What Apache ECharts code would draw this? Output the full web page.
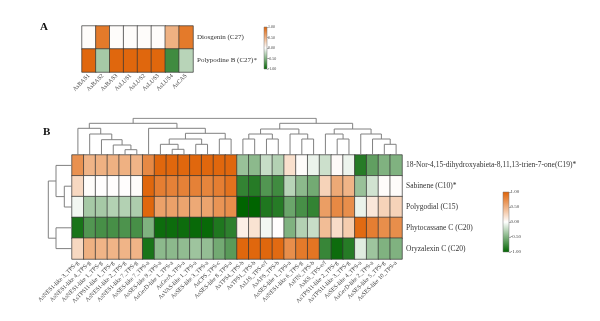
<!DOCTYPE html>
<html><head><meta charset="utf-8">
<script src="https://cdn.jsdelivr.net/npm/echarts@6/dist/echarts.min.js"></script>
<style>html,body{margin:0;padding:0;background:#fff}#c{width:600px;height:321px}</style>
</head><body><div id="c"></div>
<script>
// ---------- Panel A data ----------
const aCols = ['AsBAS1','AsBAS2','AsBAS3','AsLUS1','AsLUS2','AsLUS3','AsLUS4','AsCAS'];
const aRows = ['Diosgenin (C27)','Polypodine B (C27)*'];
const aDiosgenin  = [0.02, 0.85, 0.02, 0.02, 0.02, 0.02, 0.50, 0.85];
const aPolypodine = [0.97, -0.35, 0.97, 0.97, 0.97, 0.97, -0.75, -0.28];

// ---------- Panel B data ----------
const bCols = ['AsNES1-like 3_TPS-g','AsNES1-like 4_TPS-g','AsNES1-like 1_TPS-g','AsTPS11-like 1_TPS-g',
  'AsNES1-like 2_TPS-g','AsNES1-like 7_TPS-g','AsSES-like 7_TPS-a','AsSES-like 9_TPS-a','AsGerD-like 1_TPS-a',
  'AsGerA_TPS-a','AsVAS-like 1_TPS-a','AsSES-like 3_TPS-a','AsCPS_TPS-c','AsSES-like 8_TPS-a','AsTPS4_TPS-b',
  'AsTPS1_TPS-b','AsLIS_TPS-e/f','AsAFS_TPS-b','AsSES-like 1_TPS-a','AsNES1-like 6_TPS-g','AsFIN_TPS-b',
  'AsKS_TPS-e/f','AsTPS11-like 2_TPS-g','AsTPS11-like 3_TPS-g','AsSES-like 4_TPS-a','AsGerD-like 2_TPS-a',
  'AsSES-like 5_TPS-g','AsSES-like 10_TPS-a'];
const bRows = ['18-Nor-4,15-dihydroxyabieta-8,11,13-trien-7-one(C19)*','Sabinene (C10)*','Polygodial (C15)',
  'Phytocassane C (C20)','Oryzalexin C (C20)'];
const bNor = [0.70, 0.48,0.50,0.50,0.50,0.48, 0.75, 0.97,0.97,0.97,0.97,0.97,0.97,0.97,
  -0.40,-0.45,-0.22,-0.30, 0.20,0.02,-0.08, -0.20,0.03,-0.07, -0.85,-0.62,-0.50,-0.50];
const bSabinene = [0.25, 0.02,0.01,0.01,0.01,0.02, 0.97, 0.82,0.80,0.80,0.80,0.78,0.82,0.90,
  -0.80,-0.85,-0.68,-0.75, -0.28,-0.45,-0.55, 0.28,0.55,0.48, -0.40,-0.18,0.02,0.02];
const bPolygodial = [-0.05, -0.35,-0.35,-0.30,-0.30,-0.32, 0.97, 0.60,0.60,0.58,0.55,0.58,0.68,0.72,
  -1.00,-1.00,-0.88,-0.85, -0.58,-0.72,-0.80, 0.62,0.75,0.72, -0.08,0.15,0.28,0.28];
const bPhytocassane = [-0.90, -0.68,-0.72,-0.72,-0.70,-0.72, -0.50, -0.95,-0.95,-0.95,-0.97,-0.97,-0.88,-0.82,
  0.10,0.18,-0.05,0.01, -0.50,-0.30,-0.22, 0.42,0.22,0.32, 0.95,0.82,0.72,0.72];
const bOryzalexin = [0.25, 0.50,0.48,0.48,0.48,0.48, -0.90, -0.45,-0.45,-0.43,-0.38,-0.42,-0.55,-0.65,
  0.97,0.97,0.97,0.95, 0.72,0.85,0.88, -0.78,-0.95,-0.85, -0.12,-0.38,-0.50,-0.50];

// dendrograms: [left, right, mergeHeight]; numbers are leaf indices
const colTree = [
  [[0,[1,[2,[3,[4,5,5.3],10],15.3],21],26.7],
   [6,[[[7,[8,9,5.7],10.7],[10,11,10.7],16],[12,13,16],21.7],26.7],31.7],
  [[[[14,15,16],[16,17,16],21],[18,[19,20,16],21],26],
   [[21,[22,23,16],21],[24,[25,[26,27,10.7],16],21],26],31.7],
  36.7];
const rowTree = [[0,[1,2,7.7],16],[3,4,16],23.7];

const colorTicks = [-1, -0.5, 0, 0.5, 1];

// ---------- build ----------
function dendro(tree, segs){
  if (typeof tree === 'number') return {p: tree + 0.5, h: 0};
  const l = dendro(tree[0], segs), r = dendro(tree[1], segs), h = tree[2];
  segs.push([[l.p,l.h],[l.p,h],[r.p,h],[r.p,r.h]]);
  return {p:(l.p+r.p)/2, h:h};
}
const colSegs=[]; dendro(colTree, colSegs);
const rowSegsRaw=[]; dendro(rowTree, rowSegsRaw);
const rowSegs = rowSegsRaw.map(s => s.map(([p,h]) => [h,p]));

const aData=[]; [aDiosgenin,aPolypodine].forEach((row,r)=>row.forEach((v,c)=>aData.push([c,r,v])));
const bData=[]; [bNor,bSabinene,bPolygodial,bPhytocassane,bOryzalexin].forEach((row,r)=>row.forEach((v,c)=>bData.push([c,r,v])));

const FONT = 'Liberation Serif';
const GREEN='#006400', ORANGE='#df6205';
const colors=[GREEN,'#ffffff',ORANGE];

function colorbar(api){
  const top = api.coord([0, 1]), bot = api.coord([0, -1]);
  const w = api.size([1,0])[0];
  return {type:'rect', shape:{x:top[0]-w/2, y:top[1], width:w, height:bot[1]-top[1]},
    style:{fill:new echarts.graphic.LinearGradient(0,0,0,1,[
      {offset:0,color:ORANGE},{offset:0.5,color:'#ffffff'},{offset:1,color:GREEN}]),
      stroke:'#777', lineWidth:0.5}};
}

const hidden = {axisLine:{show:false},axisTick:{show:false},splitLine:{show:false},axisLabel:{show:false}};

const chart = echarts.init(document.getElementById('c'), null, {renderer:'canvas'});
chart.setOption({
  animation:false,
  textStyle:{fontFamily:FONT},
  graphic:[
    {type:'text', left:40, top:22, style:{text:'A', font:'bold 11px "Liberation Serif"', fill:'#111'}},
    {type:'text', left:43, top:127, style:{text:'B', font:'bold 11px "Liberation Serif"', fill:'#111'}}
  ],
  grid:[
    {left:82, top:26, width:111, height:46},    // 0 heatmap A
    {left:72, top:155, width:330, height:104},  // 1 heatmap B
    {left:72, top:118, width:330, height:37},   // 2 col dendro
    {left:44, top:155, width:28, height:104},   // 3 row dendro
    {left:264, top:27, width:3, height:42},     // 4 colorbar A
    {left:503, top:192, width:6, height:60}     // 5 colorbar B
  ],
  xAxis:[
    {type:'category', gridIndex:0, data:aCols, axisLine:{show:false}, axisTick:{show:false},
      axisLabel:{rotate:45, fontSize:6, color:'#444', margin:3, interval:0, fontFamily:FONT}},
    {type:'category', gridIndex:1, data:bCols, axisLine:{show:false}, axisTick:{show:false},
      axisLabel:{rotate:45, fontSize:6, color:'#444', margin:3, interval:0, fontFamily:FONT}},
    Object.assign({type:'value', gridIndex:2, min:0, max:bCols.length}, hidden),
    Object.assign({type:'value', gridIndex:3, min:0, max:28, inverse:true}, hidden),
    Object.assign({type:'category', gridIndex:4, data:['c']}, hidden),
    Object.assign({type:'category', gridIndex:5, data:['c']}, hidden)
  ],
  yAxis:[
    {type:'category', gridIndex:0, data:aRows, inverse:true, position:'right', axisLine:{show:false}, axisTick:{show:false},
      axisLabel:{fontSize:7, color:'#333', margin:4, fontFamily:FONT}},
    {type:'category', gridIndex:1, data:bRows, inverse:true, position:'right', axisLine:{show:false}, axisTick:{show:false},
      axisLabel:{fontSize:7.5, color:'#333', margin:4, fontFamily:FONT}},
    Object.assign({type:'value', gridIndex:2, min:0, max:37}, hidden),
    Object.assign({type:'value', gridIndex:3, min:0, max:bRows.length, inverse:true}, hidden),
    {type:'value', gridIndex:4, min:-1, max:1, interval:0.5, position:'right', splitLine:{show:false},
      axisLine:{show:false}, axisTick:{show:true, length:1.5, lineStyle:{color:'#666', width:0.5}},
      axisLabel:{fontSize:4, color:'#444', margin:1, formatter:v=>v.toFixed(2), fontFamily:FONT}},
    {type:'value', gridIndex:5, min:-1, max:1, interval:0.5, position:'right', splitLine:{show:false},
      axisLine:{show:false}, axisTick:{show:true, length:2, lineStyle:{color:'#666', width:0.5}},
      axisLabel:{fontSize:5, color:'#444', margin:1.5, formatter:v=>v.toFixed(2), fontFamily:FONT}}
  ],
  visualMap:[
    {show:false, seriesIndex:0, min:-1, max:1, inRange:{color:colors}},
    {show:false, seriesIndex:1, min:-1, max:1, inRange:{color:colors}}
  ],
  series:[
    {type:'heatmap', xAxisIndex:0, yAxisIndex:0, data:aData, itemStyle:{borderColor:'#333', borderWidth:0.7}},
    {type:'heatmap', xAxisIndex:1, yAxisIndex:1, data:bData, itemStyle:{borderColor:'#333', borderWidth:0.7}},
    {type:'lines', coordinateSystem:'cartesian2d', xAxisIndex:2, yAxisIndex:2, polyline:true, silent:true,
      lineStyle:{color:'#808080', width:1, opacity:1}, data:colSegs.map(s=>({coords:s}))},
    {type:'lines', coordinateSystem:'cartesian2d', xAxisIndex:3, yAxisIndex:3, polyline:true, silent:true,
      lineStyle:{color:'#808080', width:1, opacity:1}, data:rowSegs.map(s=>({coords:s}))},
    {type:'custom', xAxisIndex:4, yAxisIndex:4, data:[[0,0]], renderItem:(p,api)=>colorbar(api), silent:true},
    {type:'custom', xAxisIndex:5, yAxisIndex:5, data:[[0,0]], renderItem:(p,api)=>colorbar(api), silent:true}
  ]
});
</script></body></html>
